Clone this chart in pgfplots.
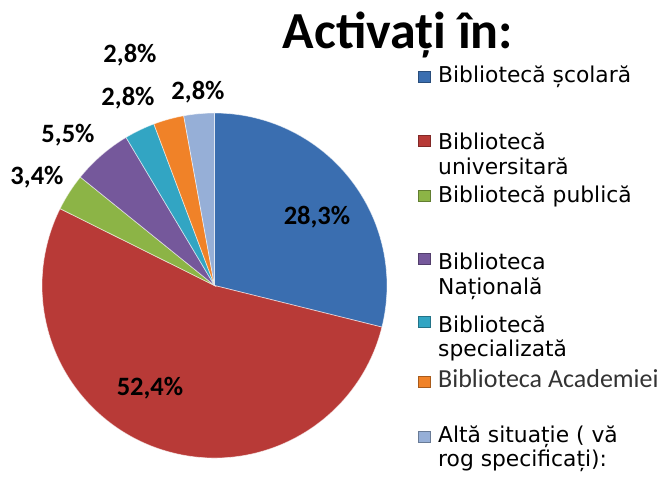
\documentclass[border=0pt]{standalone}
\usepackage{pgfplots}
\pgfplotsset{compat=1.18}
\usepackage{pgfplotstable}
\usepackage{fontspec}
\setmainfont{Carlito}
\newfontfamily\legfont{DejaVu Sans}
\definecolor{c0}{RGB}{58,110,176}
\definecolor{c1}{RGB}{184,58,55}
\definecolor{c2}{RGB}{140,180,70}
\definecolor{c3}{RGB}{117,88,155}
\definecolor{c4}{RGB}{50,165,195}
\definecolor{c5}{RGB}{240,130,40}
\definecolor{c6}{RGB}{150,175,215}
\tikzset{lab/.style={anchor=center, font=\fontsize{26.5}{30}\selectfont\bfseries},
  leg/.style={anchor=base west, inner sep=0pt, font=\legfont\fontsize{21.8}{25}\selectfont},
  mk/.style={fill=#1, draw=#1!70!black, line width=0.5pt}}
\pgfplotstableread{
value
28.3
52.4
3.4
5.5
2.8
2.8
2.8
}\piedata
\begin{document}
\begin{tikzpicture}
\begin{axis}[scale only axis, width=667pt, height=484pt,
  xmin=0, xmax=667, ymin=0, ymax=484, hide axis, clip=false]
\path (axis cs:0,0) rectangle (axis cs:667,484);
\pgfplotstablegetrowsof{\piedata}
\pgfmathtruncatemacro\N{\pgfplotsretval-1}
\def\total{0}
\pgfplotsforeachungrouped \i in {0,...,\N}{%
  \pgfplotstablegetelem{\i}{value}\of\piedata
  \pgfmathsetmacro\total{\total+\pgfplotsretval}%
}
\pgfmathsetmacro\degper{360/\total}
\def\cum{0}
\pgfplotsforeachungrouped \i in {0,...,\N}{%
  \pgfplotstablegetelem{\i}{value}\of\piedata
  \let\myv\pgfplotsretval
  \pgfmathsetmacro\sa{90-\degper*\cum}%
  \pgfmathsetmacro\sb{90-\degper*(\cum+\myv)}%
  \edef\temp{\noexpand\fill[c\i, draw=white, draw opacity=0.6, line width=0.7pt] (axis cs:214.5,198.5) -- ++(\sa:172.5pt) arc[start angle=\sa, end angle=\sb, radius=172.5pt] -- cycle;}%
  \temp
  \pgfmathsetmacro\cum{\cum+\myv}%
}
% title
\node[anchor=base, font=\fontsize{52}{60}\selectfont\bfseries] at (axis cs:398,435) {Activați în:};
% data labels
\node[lab] at (axis cs:317,267) {28,3\%};
\node[lab] at (axis cs:150,96) {52,4\%};
\node[lab] at (axis cs:37,307) {3,4\%};
\node[lab] at (axis cs:68,349) {5,5\%};
\node[lab] at (axis cs:130,429) {2,8\%};
\node[lab] at (axis cs:128,386) {2,8\%};
\node[lab] at (axis cs:198,392) {2,8\%};
% legend
\node[leg] at (axis cs:438,401) {Bibliotecă școlară};
\node[leg] at (axis cs:438,334) {Bibliotecă};
\node[leg] at (axis cs:438,309) {universitară};
\node[leg] at (axis cs:438,281) {Bibliotecă publică};
\node[leg] at (axis cs:438,214) {Biblioteca};
\node[leg] at (axis cs:438,189) {Națională};
\node[leg] at (axis cs:438,151) {Bibliotecă};
\node[leg] at (axis cs:438,127) {specializată};
\node[anchor=base west, inner sep=0pt, text=black!80, font=\fontsize{26}{30}\selectfont] at (axis cs:438,96) {Biblioteca Academiei};
\node[leg] at (axis cs:438,41) {Altă situație ( vă};
\node[leg] at (axis cs:438,17) {rog specificați):};
\path[mk=c0] (axis cs:418,401.5) rectangle (axis cs:430,412.5);
\path[mk=c1] (axis cs:418,337.5) rectangle (axis cs:430,348.5);
\path[mk=c2] (axis cs:418,282.5) rectangle (axis cs:430,293.5);
\path[mk=c3] (axis cs:418,219.5) rectangle (axis cs:430,230.5);
\path[mk=c4] (axis cs:418,156.5) rectangle (axis cs:430,167.5);
\path[mk=c5] (axis cs:418,96.5) rectangle (axis cs:430,107.5);
\path[mk=c6] (axis cs:418,41.5) rectangle (axis cs:430,52.5);
\end{axis}
\end{tikzpicture}
\end{document}
